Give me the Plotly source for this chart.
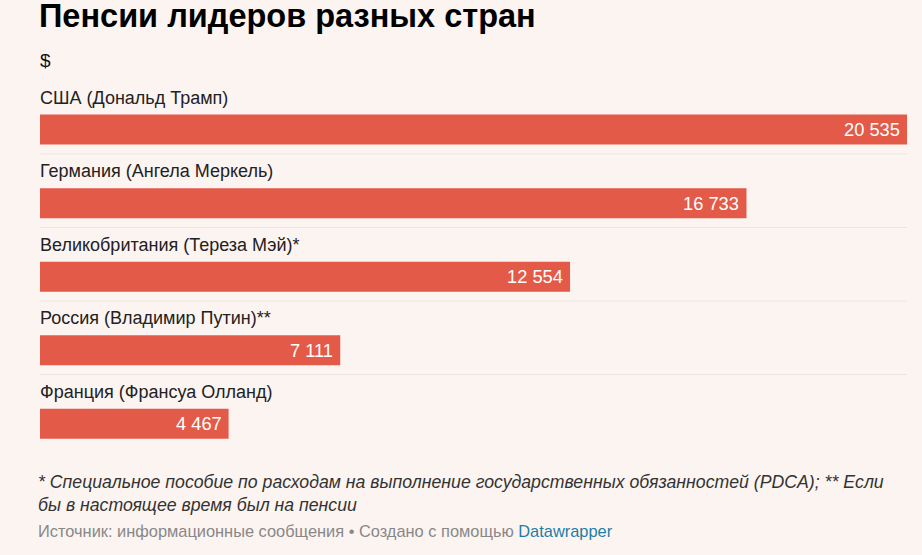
import plotly.graph_objects as go

categories = ["США (Дональд Трамп)", "Германия (Ангела Меркель)",
              "Великобритания (Тереза Мэй)*", "Россия (Владимир Путин)**",
              "Франция (Франсуа Олланд)"]
values = [20535, 16733, 12554, 7111, 4467]

BG = "#fcf4f1"
BAR = "#e35a48"
FONT = "Liberation Sans, Arial, sans-serif"

pos = list(range(len(categories)))
labels = [f"{v:,}".replace(",", " ") for v in values]

fig = go.Figure(go.Bar(
    x=values, y=pos, orientation="h", width=0.408,
    marker=dict(color=BAR, line=dict(width=0)),
    hoverinfo="skip",
))

ann = []
for i, c in enumerate(categories):
    ann.append(dict(x=0, y=i, xref="x", yref="y", text=c, showarrow=False,
                    xanchor="left", yanchor="middle", yshift=32, xshift=-2,
                    font=dict(size=18, color="#222", family=FONT)))
    ann.append(dict(x=values[i], y=i, xref="x", yref="y", text=labels[i], showarrow=False,
                    xanchor="right", yanchor="middle", xshift=-5, yshift=0,
                    font=dict(size=18.3, color="white", family=FONT)))

shapes = []
for i in range(len(categories) - 1):
    shapes.append(dict(type="line", xref="paper", yref="y", x0=0, x1=1,
                       y0=i + 0.33, y1=i + 0.33,
                       line=dict(color="#ece4e0", width=1)))

ann.append(dict(x=0, y=1, xref="paper", yref="paper", xanchor="left", yanchor="middle",
                xshift=-3, yshift=56 - 16, showarrow=False,
                text="<b>Пенсии лидеров разных стран</b>",
                font=dict(size=32.5, color="#000", family=FONT)))
ann.append(dict(x=0, y=1, xref="paper", yref="paper", xanchor="left", yanchor="middle",
                xshift=-2, yshift=56 - 60, showarrow=False, text="$",
                font=dict(size=19, color="#111", family=FONT)))
ann.append(dict(x=0, y=0, xref="paper", yref="paper", xanchor="left", yanchor="top",
                xshift=-4, yshift=-(481 - 468 - 11), showarrow=False, align="left",
                text="<i>* Специальное пособие по расходам на выполнение государственных обязанностей (PDCA); ** Если<br>бы в настоящее время был на пенсии</i>",
                font=dict(size=17.7, color="#333", family=FONT)))
ann.append(dict(x=0, y=0, xref="paper", yref="paper", xanchor="left", yanchor="middle",
                xshift=-4, yshift=-(531 - 468), showarrow=False,
                text="Источник: информационные сообщения • Создано с помощью <span style='color:#1c7fa8'>Datawrapper</span>",
                font=dict(size=16.4, color="#888", family=FONT)))

fig.update_layout(
    width=922, height=555,
    margin=dict(l=40, r=15, t=56, b=87, pad=0),
    paper_bgcolor=BG, plot_bgcolor=BG,
    showlegend=False,
    xaxis=dict(range=[0, max(values)], visible=False, fixedrange=True),
    yaxis=dict(range=[4.6, -1.0], visible=False, fixedrange=True),
    annotations=ann, shapes=shapes,
    font=dict(family=FONT),
)

fig.write_html("out.html", config={"displayModeBar": False})
